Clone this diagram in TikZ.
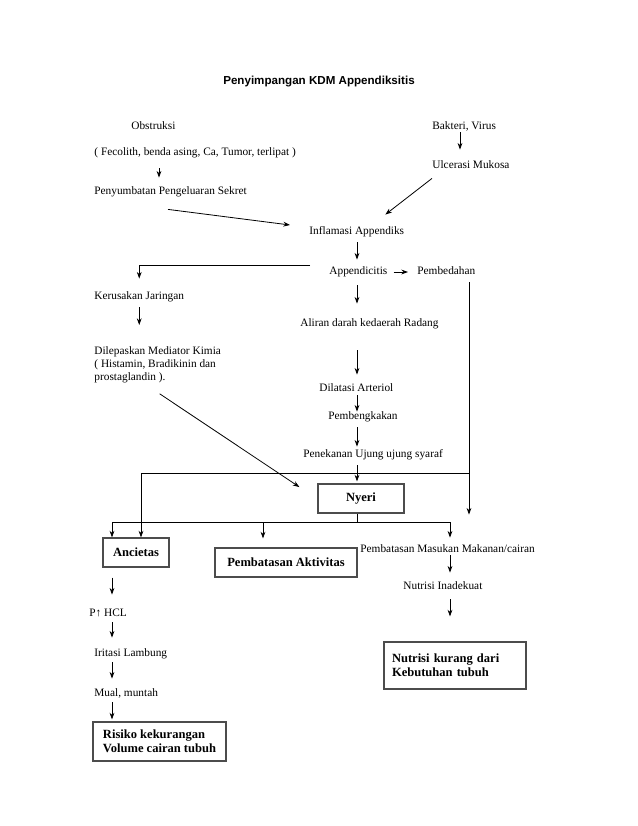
\documentclass[tikz,border=0pt]{standalone}
\usepackage{fontspec}
\setmainfont{Liberation Serif}
\newfontfamily\headfont{Liberation Sans}
\usetikzlibrary{arrows.meta}

\tikzset{
  txt/.style={anchor=west, inner xsep=0pt, inner ysep=2pt, text height=6pt, text depth=2pt,
    font=\fontsize{8.5}{9.75}\selectfont},
  txtblok/.style={anchor=north west, align=left, inner sep=0pt, font=\fontsize{8.5}{9.75}\selectfont},
  kotak/.style={draw=black!70, line width=0.9pt, inner sep=0pt, minimum height=21.75pt,
    font=\fontsize{9.4}{10.8}\selectfont\bfseries},
  judul/.style={font=\headfont\fontsize{8.7}{10}\selectfont\bfseries}
}

\begin{document}
\begin{tikzpicture}[x=0.75pt, y=-0.75pt, line width=0.6pt, >={Stealth[length=5pt,width=3.6pt]}]
\useasboundingbox (0,0) rectangle (638,826);

% judul
\node[judul] (jdl) at (319,82) {Penyimpangan KDM Appendiksitis};

% penyebab
\node[txt] (obs) at (131,127) {Obstruksi};
\node[txt] (fec) at (94,153) {( Fecolith, benda asing, Ca, Tumor, terlipat )};
\node[txt] (peny) at (94,192) {Penyumbatan Pengeluaran Sekret};
\node[txt] (bak) at (432,127) {Bakteri, Virus};
\node[txt] (ulc) at (432,166) {Ulcerasi Mukosa};

% jalur tengah
\node[txt] (infl) at (309,232) {Inflamasi Appendiks};
\node[txt] (app) at (329,272) {Appendicitis};
\node[txt] (bedah) at (417,272) {Pembedahan};
\node[txt] (aliran) at (300,324) {Aliran darah kedaerah Radang};
\node[txt] (dilat) at (319,389) {Dilatasi Arteriol};
\node[txt] (bengkak) at (328,417) {Pembengkakan};
\node[txt] (tekan) at (303,455) {Penekanan Ujung ujung syaraf};
\node[kotak, minimum width=64.5pt] (nyeri) at (361,498.5) {Nyeri};

% jalur kiri
\node[txt] (rusak) at (94,297) {Kerusakan Jaringan};
\node[txtblok] (lepas) at (94,346) {Dilepaskan Mediator Kimia\\( Histamin, Bradikinin dan\\prostaglandin ).};

% masalah
\node[kotak, minimum width=49.5pt] (anc) at (136,552.5) {Ancietas};
\node[kotak, minimum width=106.5pt] (aktiv) at (286,562.5) {Pembatasan Aktivitas};
\node[txt] (masuk) at (360,550) {Pembatasan Masukan Makanan/cairan};
\node[txt] (nutin) at (403,587) {Nutrisi Inadekuat};
\node[kotak, align=left, text width=94.5pt, inner xsep=6pt, minimum height=35.25pt] (kurang)
  at (455,665.5) {Nutrisi kurang dari\\Kebutuhan tubuh};
\node[txt] (hcl) at (89,614) {P↑ HCL};
\node[txt] (irit) at (94,654) {Iritasi Lambung};
\node[txt] (mual) at (94,694) {Mual, muntah};
\node[kotak, align=left, minimum width=99.75pt, minimum height=29.25pt] (risiko)
  at (159.5,741.5) {Risiko kekurangan\\Volume cairan tubuh};

% kolom dan titik cabang
\coordinate (tengah) at (357,0);
\coordinate (kiri) at (112,0);
\coordinate (kanan) at (450,0);
\coordinate (bedkol) at (469,0);
\coordinate (appkiri) at (310,265);
\coordinate (cabang1) at (469,473);
\coordinate (cabang2) at (357,522);

% panah atas
\draw[->, shorten <=5.25pt, shorten >=4.5pt] (fec.south -| 159,0) -- (peny.north -| 159,0);
\draw[->, shorten <=-2.25pt, shorten >=6pt] (bak.south -| 460,0) -- (ulc.north -| 460,0);
\draw[->] ([yshift=-3pt]ulc.south west) -- ([xshift=21.4pt,yshift=6.75pt]infl.north);
\draw[->] ([xshift=-1.9pt,yshift=-6.75pt]peny.south) -- ([xshift=-14.25pt,yshift=5.25pt]infl.west);
\draw[->, shorten <=1.5pt, shorten >=3pt] (infl.south -| tengah) -- (app.north -| tengah);
\draw[->, shorten <=4.5pt, shorten >=6.75pt] (app.east) -- (bedah.west);

% panah tengah
\draw[->, shorten <=3.75pt, shorten >=9pt] (app.south -| tengah) -- (aliran.north -| tengah);
\draw[->, shorten <=13.5pt, shorten >=4.5pt] (aliran.south -| tengah) -- (dilat.north -| tengah);
\draw[->, shorten <=-1.5pt, shorten >=-2.25pt] (dilat.south -| tengah) -- (bengkak.north -| tengah);
\draw[->, shorten <=1.5pt] (bengkak.south -| tengah) -- (tekan.north -| tengah);
\draw[->, shorten <=1.5pt, shorten >=1.5pt] (tekan.south -| tengah) -- (nyeri.north -| tengah);

% panah kiri
\draw[->, shorten >=7.5pt] (appkiri) -| (rusak.north);
\draw[->, shorten <=1.5pt, shorten >=15.75pt] (rusak.south) -- (lepas.north -| rusak.south);
\draw[->] ([xshift=1.5pt,yshift=-8pt]lepas.south) -- ([xshift=-13.5pt,yshift=8.6pt]nyeri.west);

% pembedahan
\draw[->, shorten <=1.5pt, shorten >=20.25pt] (bedah.south -| bedkol) -- (masuk.north -| bedkol);
\draw[->] (cabang1) -| ([xshift=3.75pt]anc.north);

% cabang nyeri
\draw (nyeri.south -| tengah) -- (cabang2);
\draw[->] (cabang2) -| (anc.north -| kiri);
\draw[->, shorten >=6.75pt] (cabang2) -| (aktiv.north -| 263,0);
\draw[->, shorten >=3pt] (cabang2) -| (masuk.north -| kanan);

% kanan bawah
\draw[->, shorten <=-2.25pt, shorten >=4.5pt] (masuk.south -| kanan) -- (nutin.north -| kanan);
\draw[->, shorten <=3pt, shorten >=18.75pt] (nutin.south -| kanan) -- (kurang.north -| kanan);

% kiri bawah
\draw[->, shorten <=7.5pt, shorten >=8.25pt] (anc.south -| kiri) -- (hcl.north -| kiri);
\draw[->, shorten >=6pt] (hcl.south -| kiri) -- (irit.north -| kiri);
\draw[->, shorten >=5.25pt] (irit.south -| kiri) -- (mual.north -| kiri);
\draw[->, shorten >=1.5pt] (mual.south -| kiri) -- (risiko.north -| kiri);

\end{tikzpicture}
\end{document}
